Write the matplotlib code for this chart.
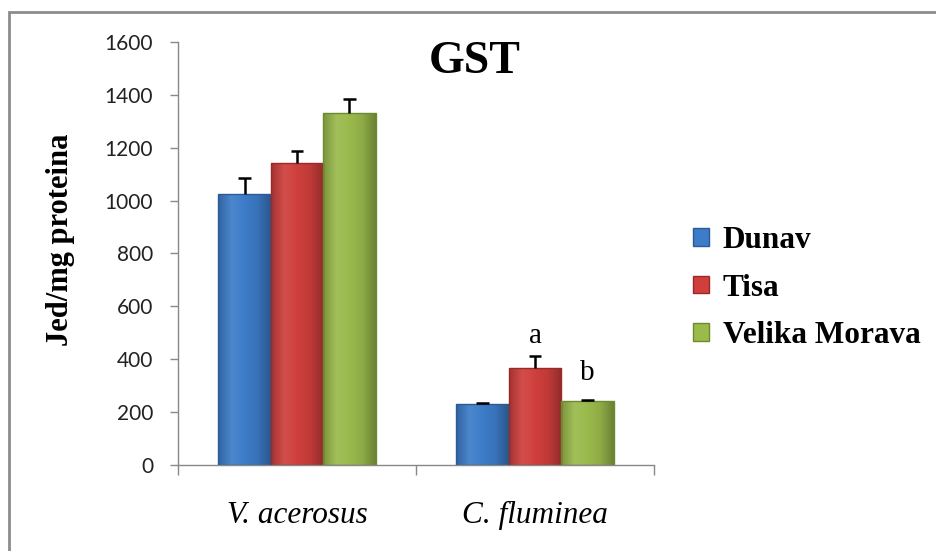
import numpy as np
import matplotlib.pyplot as plt
from matplotlib.colors import LinearSegmentedColormap, to_rgb
from matplotlib.patches import Rectangle, Patch

# data
categories = ['V. acerosus', 'C. fluminea']
series = ['Dunav', 'Tisa', 'Velika Morava']
values = {
    'Dunav': [1025, 231],
    'Tisa': [1142, 367],
    'Velika Morava': [1331, 242],
}
errors = {
    'Dunav': [60, 4],
    'Tisa': [46, 45],
    'Velika Morava': [53, 3],
}
# letters shown above the C. fluminea bars
letters = {'Tisa': 'a', 'Velika Morava': 'b'}
yticks = [0, 200, 400, 600, 800, 1000, 1200, 1400, 1600]

colors = {'Dunav': '#3d7cc9', 'Tisa': '#cf3f3c', 'Velika Morava': '#9aba4c'}
edges = {'Dunav': '#2b5b94', 'Tisa': '#9a2a28', 'Velika Morava': '#6d8a2e'}


def shade(c, f):
    r = np.array(to_rgb(c))
    if f >= 1:
        return tuple(r + (1 - r) * (f - 1))
    return tuple(r * f)


def gradient_bar(ax, x, w, h, color, edge):
    cmap = LinearSegmentedColormap.from_list(
        'g', [shade(color, 0.8), shade(color, 1.08), shade(color, 1.0), shade(color, 0.92), shade(color, 0.7)])
    rect = Rectangle((x - w / 2, 0), w, h, facecolor='none', edgecolor=edge, lw=1.0, zorder=3)
    ax.add_patch(rect)
    grad = np.linspace(0, 1, 64).reshape(1, -1)
    im = ax.imshow(grad, cmap=cmap, aspect='auto', extent=(x - w / 2, x + w / 2, 0, h),
                   zorder=2, interpolation='bicubic')
    im.set_clip_path(rect)


fig = plt.figure(figsize=(9.37, 5.51), dpi=100)
ax = fig.add_axes([0.19, 0.156, 0.508, 0.768])

# outer chart border (cut off at right and bottom like the original)
fig.patches.append(Rectangle((9 / 937, -0.1), 1.2, 1 - 12 / 551 + 0.1, transform=fig.transFigure,
                             fill=False, edgecolor='#8c8c8c', lw=2))

w = 0.22
cap = 0.026
xs = np.arange(len(categories))
for i, s in enumerate(series):
    off = (i - 1) * w
    for j in range(len(categories)):
        gradient_bar(ax, xs[j] + off, w, values[s][j], colors[s], edges[s])
    # upper error bars only
    v = np.array(values[s])
    top = v + np.array(errors[s])
    ax.vlines(xs + off, v, top, color='black', lw=1.8, zorder=4)
    ax.hlines(top, xs + off - cap, xs + off + cap, color='black', lw=1.8, zorder=4)

for s, letter in letters.items():
    i = series.index(s)
    top = values[s][1] + errors[s][1]
    gap = 5 if letter == 'a' else 10
    ax.annotate(letter, (xs[1] + (i - 1) * w, top), xytext=(0, gap), textcoords='offset points',
                ha='center', va='bottom', fontsize=21, family='Liberation Serif')

ax.set_xlim(-0.5, 1.5)
ax.set_ylim(0, 1600)
ax.set_yticks(yticks)
ax.set_yticklabels([str(t) for t in yticks], fontsize=15, family='Lato', color='#222222')
ax.set_xticks([-0.5, 0.5, 1.5])
ax.set_xticklabels([])
ax.set_xticks(xs, minor=True)
ax.set_xticklabels(categories, minor=True, fontsize=22.5, style='italic', family='Liberation Serif')
ax.tick_params(axis='x', which='minor', length=0, pad=26)
ax.tick_params(axis='x', which='major', length=7.5, color='#888888', width=1)
ax.tick_params(axis='y', length=6, color='#888888', width=1, pad=12)
for side in ['top', 'right']:
    ax.spines[side].set_visible(False)
for side in ['left', 'bottom']:
    ax.spines[side].set_color('#888888')
    ax.spines[side].set_linewidth(1)

fig.text(61 / 937, 1 - 240 / 551, 'Jed/mg proteina', rotation=90, fontsize=22, fontweight='bold',
         family='Liberation Serif', ha='center', va='center')
fig.text(0.507, 0.888, 'GST', fontsize=33, fontweight='bold', family='Liberation Serif',
         ha='center', va='center')

handles = [Patch(facecolor=colors[s], edgecolor=edges[s], lw=1) for s in series]
ax.legend(handles, series, loc='center left', bbox_to_anchor=(693 / 937, 1 - 288 / 551),
          bbox_transform=fig.transFigure, frameon=False, borderpad=0, borderaxespad=0,
          handlelength=0.5, handleheight=0.5, handletextpad=0.45, labelspacing=0.6,
          prop={'family': 'Liberation Serif', 'weight': 'bold', 'size': 22.5})

fig.savefig('out.png', dpi=100)
